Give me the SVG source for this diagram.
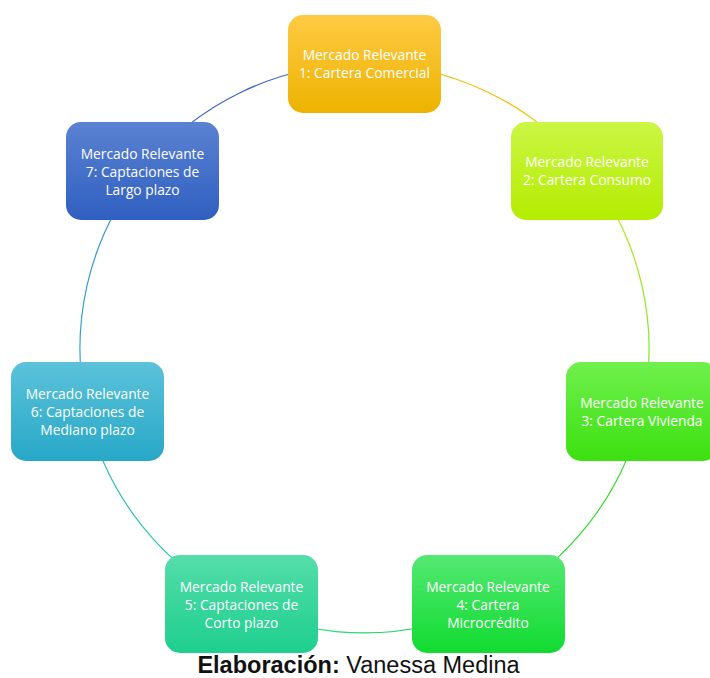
<svg xmlns="http://www.w3.org/2000/svg" width="710" height="678" viewBox="0 0 710 678">
<style>
.n{stroke:none}
.t{font-family:"Open Sans","Liberation Sans",sans-serif;font-size:13.8px;fill:#ffffff;text-anchor:middle}
.c{fill:none;stroke-width:1.2}
.cap{font-family:"Liberation Sans",Arial,sans-serif;font-size:23.5px;fill:#111111;text-anchor:middle}
</style>
<defs>
<linearGradient id="g1" x1="0" y1="0" x2="0" y2="1"><stop offset="0" stop-color="#FFCA45"/><stop offset="1" stop-color="#EDB300"/></linearGradient>
<linearGradient id="g2" x1="0" y1="0" x2="0" y2="1"><stop offset="0" stop-color="#CBF645"/><stop offset="1" stop-color="#B4EC00"/></linearGradient>
<linearGradient id="g3" x1="0" y1="0" x2="0" y2="1"><stop offset="0" stop-color="#70F04E"/><stop offset="1" stop-color="#3CE010"/></linearGradient>
<linearGradient id="g4" x1="0" y1="0" x2="0" y2="1"><stop offset="0" stop-color="#55E873"/><stop offset="1" stop-color="#10DB30"/></linearGradient>
<linearGradient id="g5" x1="0" y1="0" x2="0" y2="1"><stop offset="0" stop-color="#55DDAA"/><stop offset="1" stop-color="#1ECF8E"/></linearGradient>
<linearGradient id="g6" x1="0" y1="0" x2="0" y2="1"><stop offset="0" stop-color="#5CC2DA"/><stop offset="1" stop-color="#27A8C7"/></linearGradient>
<linearGradient id="g7" x1="0" y1="0" x2="0" y2="1"><stop offset="0" stop-color="#5B82D2"/><stop offset="1" stop-color="#2F5FC0"/></linearGradient>
<linearGradient id="l1" gradientUnits="userSpaceOnUse" x1="364.5" y1="64" x2="586.9" y2="171.1"><stop offset="0" stop-color="#F2B400"/><stop offset="0.6" stop-color="#F0C000"/><stop offset="1" stop-color="#C8E820"/></linearGradient>
<linearGradient id="l2" gradientUnits="userSpaceOnUse" x1="586.9" y1="171.1" x2="641.9" y2="411.8"><stop offset="0" stop-color="#BDEB10"/><stop offset="1" stop-color="#6AE830"/></linearGradient>
<linearGradient id="l3" gradientUnits="userSpaceOnUse" x1="641.9" y1="411.8" x2="487.9" y2="604.8"><stop offset="0" stop-color="#45DE20"/><stop offset="1" stop-color="#20D840"/></linearGradient>
<linearGradient id="l4" gradientUnits="userSpaceOnUse" x1="487.9" y1="604.8" x2="241.1" y2="604.8"><stop offset="0" stop-color="#20D840"/><stop offset="1" stop-color="#30D898"/></linearGradient>
<linearGradient id="l5" gradientUnits="userSpaceOnUse" x1="241.1" y1="604.8" x2="87.1" y2="411.8"><stop offset="0" stop-color="#30D898"/><stop offset="1" stop-color="#30B0C8"/></linearGradient>
<linearGradient id="l6" gradientUnits="userSpaceOnUse" x1="87.1" y1="411.8" x2="142.1" y2="171.1"><stop offset="0" stop-color="#30B0C8"/><stop offset="1" stop-color="#3A8AC8"/></linearGradient>
<linearGradient id="l7" gradientUnits="userSpaceOnUse" x1="142.1" y1="171.1" x2="364.5" y2="64"><stop offset="0" stop-color="#3A68C4"/><stop offset="1" stop-color="#3A60C0"/></linearGradient>
</defs>
<g id="connectors">
<path class="c" stroke="url(#l1)" d="M364.5 64 A284.5 284.5 0 0 1 586.9 171.1"/>
<path class="c" stroke="url(#l2)" d="M586.9 171.1 A284.5 284.5 0 0 1 641.9 411.8"/>
<path class="c" stroke="url(#l3)" d="M641.9 411.8 A284.5 284.5 0 0 1 487.9 604.8"/>
<path class="c" stroke="url(#l4)" d="M487.9 604.8 A284.5 284.5 0 0 1 241.1 604.8"/>
<path class="c" stroke="url(#l5)" d="M241.1 604.8 A284.5 284.5 0 0 1 87.1 411.8"/>
<path class="c" stroke="url(#l6)" d="M87.1 411.8 A284.5 284.5 0 0 1 142.1 171.1"/>
<path class="c" stroke="url(#l7)" d="M142.1 171.1 A284.5 284.5 0 0 1 364.5 64"/>
</g>
<g id="node1">
<rect class="n" x="288" y="15" width="153" height="98" rx="15" fill="url(#g1)"/>
<text class="t" x="364.5" y="60">Mercado Relevante</text>
<text class="t" x="364.5" y="78">1: Cartera Comercial</text>
</g>
<g id="node2">
<rect class="n" x="511" y="122" width="152" height="98" rx="15" fill="url(#g2)"/>
<text class="t" x="587" y="167">Mercado Relevante</text>
<text class="t" x="587" y="185">2: Cartera Consumo</text>
</g>
<g id="node3">
<rect class="n" x="566" y="362" width="152" height="99" rx="15" fill="url(#g3)"/>
<text class="t" x="642" y="408">Mercado Relevante</text>
<text class="t" x="642" y="426">3: Cartera Vivienda</text>
</g>
<g id="node4">
<rect class="n" x="412" y="555" width="153" height="98" rx="15" fill="url(#g4)"/>
<text class="t" x="488" y="592">Mercado Relevante</text>
<text class="t" x="488" y="610">4: Cartera</text>
<text class="t" x="488" y="628">Microcrédito</text>
</g>
<g id="node5">
<rect class="n" x="165" y="555" width="153" height="98" rx="15" fill="url(#g5)"/>
<text class="t" x="241.5" y="592">Mercado Relevante</text>
<text class="t" x="241.5" y="610">5: Captaciones de</text>
<text class="t" x="241.5" y="628">Corto plazo</text>
</g>
<g id="node6">
<rect class="n" x="11" y="362" width="153" height="99" rx="15" fill="url(#g6)"/>
<text class="t" x="87.5" y="399">Mercado Relevante</text>
<text class="t" x="87.5" y="417">6: Captaciones de</text>
<text class="t" x="87.5" y="435">Mediano plazo</text>
</g>
<g id="node7">
<rect class="n" x="66" y="122" width="153" height="98" rx="15" fill="url(#g7)"/>
<text class="t" x="142.5" y="159">Mercado Relevante</text>
<text class="t" x="142.5" y="177">7: Captaciones de</text>
<text class="t" x="142.5" y="195">Largo plazo</text>
</g>
<text class="cap" x="358.5" y="673"><tspan font-weight="bold">Elaboración:</tspan> Vanessa Medina</text>
</svg>
